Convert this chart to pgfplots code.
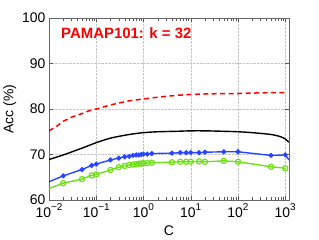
\documentclass[border=0pt]{standalone}
\usepackage{pgfplots}
\pgfplotsset{compat=1.18}
\usepackage{fontspec}
\setmainfont{Liberation Sans}
\newcommand{\tl}[1]{10\raisebox{0.5em}{\fontsize{10}{10}\selectfont #1}}
\definecolor{myblue}{RGB}{40,70,255}
\definecolor{mygreen}{RGB}{110,225,20}
\begin{document}
\begin{tikzpicture}
\begin{axis}[
  scale only axis, width=240bp, height=182bp,
  xmode=log, xmin=0.01, xmax=1200, ymin=60, ymax=100,
  xtick={0.01,0.1,1,10,100,1000},
  xticklabels={\tl{−2},\tl{−1},\tl{0},\tl{1},\tl{2},\tl{3}},
  ytick={60,70,80,90,100},
  grid=major,
  major grid style={densely dotted, gray!45},
  axis line style={gray!80!black},
  tick align=inside,
  tick style={gray!70!black},
  /pgf/number format/assume math mode=true,
  ticklabel style={font=\fontsize{14}{14}\selectfont},
  xlabel={C}, ylabel={Acc (\%)},
  label style={font=\fontsize{14}{14}\selectfont},
  xlabel style={yshift=-1pt},
  ylabel style={yshift=-1pt},
  clip=true,
]
\addplot[red, dashed, line width=1.5pt, dash pattern=on 5pt off 3.5pt, no marks] coordinates {
 (0.01,75.2) (0.015,76.3) (0.02,77.3) (0.03,78.2) (0.05,79.0) (0.07,79.6) (0.1,80.0) (0.2,80.9) (0.3,81.3) (0.5,81.8) (1,82.2) (2,82.6) (5,83.0) (10,83.2) (20,83.3) (50,83.4) (100,83.4) (200,83.5) (500,83.6) (1000,83.6)
};
\addplot[black, line width=1.4pt, no marks, smooth] coordinates {
 (0.01,68.9) (0.02,69.9) (0.05,71.4) (0.1,72.6) (0.2,73.6) (0.5,74.4) (1,74.8) (2,75.0) (5,75.1) (10,75.2) (20,75.2) (50,75.1) (100,75.0) (200,74.8) (500,74.4) (800,73.9) (1000,73.4) (1200,72.7)
};
\addplot[myblue, line width=1.4pt, mark=*, mark size=1.8pt, mark indices={2,...,26}] coordinates {
 (0.01,64.0) (0.02,65.3) (0.05,66.7) (0.08,67.6) (0.1,67.9) (0.2,68.8) (0.3,69.2) (0.4,69.5) (0.5,69.6) (0.6,69.8) (0.7,69.9) (0.8,69.9) (0.9,70.0) (1,70.1) (1.2,70.1) (1.5,70.2) (4,70.3) (6,70.4) (8,70.4) (10,70.4) (15,70.4) (20,70.5) (50,70.6) (100,70.6) (500,69.8) (1000,69.9) (1200,68.8)
};
\addplot[mygreen, line width=1.4pt, mark=o, mark size=2.6pt, mark options={line width=1.2pt}, mark indices={2,...,26}] coordinates {
 (0.01,62.5) (0.02,63.7) (0.05,64.6) (0.08,65.4) (0.1,65.6) (0.2,66.6) (0.3,67.2) (0.4,67.5) (0.5,67.7) (0.6,67.8) (0.7,67.9) (0.8,68.0) (0.9,68.0) (1,68.1) (1.2,68.1) (1.5,68.2) (4,68.3) (6,68.4) (8,68.4) (10,68.4) (15,68.5) (20,68.4) (50,68.6) (100,68.4) (500,67.3) (1000,67.0)
};
\node[anchor=north west, inner sep=0pt, text=red, font=\bfseries\fontsize{15}{15}\selectfont] at (rel axis cs:0.05,0.95) {PAMAP101: k = 32};
\end{axis}
\pgfresetboundingbox
\path (current axis.south west) ++(-49bp,-40bp) rectangle ++(319bp,240bp);
\end{tikzpicture}
\end{document}
